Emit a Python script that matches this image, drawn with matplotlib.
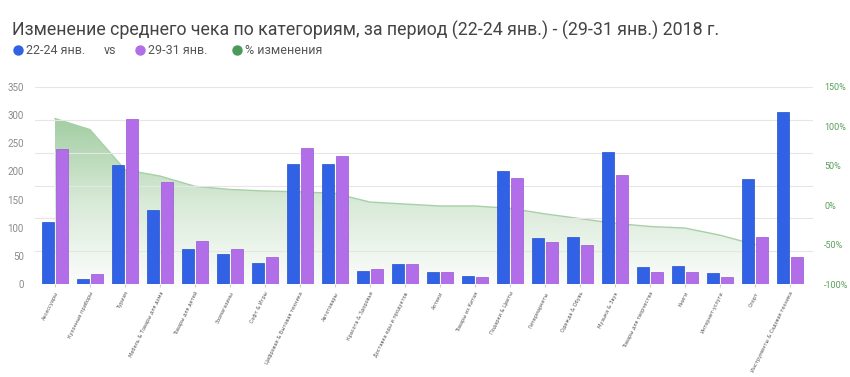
import matplotlib.pyplot as plt
import numpy as np
from matplotlib.patches import Polygon
from matplotlib.lines import Line2D
from matplotlib.colors import LinearSegmentedColormap

plt.rcParams['font.family'] = ['Roboto', 'DejaVu Sans']

categories = ['Аксессуары', 'Кухонные приборы', 'Туризм', 'Мебель & Товары для дома',
              'Товары для детей', 'Зоомагазины', 'Софт & Игры', 'Цифровая & Бытовая техника',
              'Автотовары', 'Красота & Здоровье', 'Доставка еды и продуктов', 'Аптеки',
              'Товары из Китая', 'Подарки & Цветы', 'Гипермаркеты', 'Одежда & Обувь',
              'Музыка & Звук', 'Товары для творчества', 'Книги', 'Интернет-услуги',
              'Спорт', 'Инструменты & Садовая техника']
week1 = [111, 9, 211, 131, 63, 53, 37, 213, 213, 23, 35, 21, 14, 201, 82, 84, 235, 30, 32, 20, 186, 305]
week2 = [240, 17, 294, 182, 77, 63, 48, 242, 228, 26, 35, 21, 12, 188, 74, 69, 193, 21, 21, 12, 84, 48]
change = [110, 96, 45, 37, 24, 20, 18, 17, 15, 4, 1.5, -1, -1, -4, -11, -17, -23, -27, -29, -38, -50, np.nan]
left_ticks = [0, 50, 100, 150, 200, 250, 300, 350]
right_ticks = [-100, -50, 0, 50, 100, 150]

BLUE = '#3162e6'
PURPLE = '#b26ee8'
GREEN = '#4c9a5a'
NARROW = ['Liberation Sans Narrow', 'DejaVu Sans']

fig = plt.figure(figsize=(8.5, 3.77), dpi=100)
ax = fig.add_axes([35 / 850, 1 - 284 / 377, (813 - 35) / 850, (284 - 87) / 377])
ax2 = ax.twinx()

x = np.arange(len(categories))

# green gradient area on the right axis
ch = np.array(change, dtype=float)
ok = ~np.isnan(ch)
xs, ys = x[ok], ch[ok]
verts = [(xs[0], -100)] + list(zip(xs, ys)) + [(xs[-1], -100)]
poly = Polygon(verts, closed=True, facecolor='none', edgecolor='none')
ax2.add_patch(poly)
cmap = LinearSegmentedColormap.from_list('g', ['#fcfdfc', '#d3e8d3', '#98c898'])
grad = np.linspace(0, 1, 256).reshape(-1, 1)
im = ax2.imshow(grad, cmap=cmap, origin='lower', aspect='auto',
                extent=[xs[0], xs[-1], -100, ys.max()], alpha=0.9, zorder=1)
im.set_clip_path(poly)
ax2.plot(xs, ys, color='#a8d0a8', lw=1, zorder=2)

ax2.set_ylim(-100, 150)
ax2.set_yticks(right_ticks)
ax2.set_yticklabels([f'{t}%' for t in right_ticks], color='#5a9e5a', fontsize=6.5)
ax2.tick_params(axis='y', length=0, pad=8)

# bars on the left axis, drawn above the area
ax.set_zorder(ax2.get_zorder() + 1)
ax.patch.set_visible(False)
w = 0.36
ax.bar(x - 0.2, week1, w, color=BLUE, edgecolor='#2550c8', lw=0.5, zorder=3)
ax.bar(x + 0.2, week2, w, color=PURPLE, edgecolor='#9a58d0', lw=0.5, zorder=3)

for g in np.linspace(0, 350, 7):
    ax.axhline(g, color='#e6e6e6', lw=0.8, zorder=0)

ax.set_ylim(0, 350)
ax.set_xlim(-0.57, len(categories) - 1 + 0.66)
ax.set_yticks(left_ticks)
ax.set_yticklabels([str(t) for t in left_ticks], color='#8a8a8a', fontsize=7)
ax.tick_params(axis='y', length=0, pad=8)
ax.set_xticks(x)
ax.set_xticklabels(categories, rotation=64, ha='right', va='top',
                   rotation_mode='anchor', fontsize=3.6, color='#555555', family=NARROW)
ax.tick_params(axis='x', length=2, color='#cccccc', pad=3)

for a in (ax, ax2):
    for s in a.spines.values():
        s.set_visible(False)

fig.text(12 / 850, 1 - 30 / 377, 'Изменение среднего чека по категориям, за период (22-24 янв.) - (29-31 янв.) 2018 г.',
         fontsize=12.8, color='#444444', va='center', ha='left')

# legend row
ly = 1 - 50 / 377
items = [(18, BLUE, '22-24 янв.'), (140, PURPLE, '29-31 янв.'), (237, GREEN, '% изменения')]
for px, col, lab in items:
    fig.add_artist(Line2D([px / 850], [ly], marker='o', markersize=6.5, color=col,
                          transform=fig.transFigure))
    fig.text((px + 8) / 850, ly, lab, fontsize=9, color='#555555', va='center')
fig.text(104 / 850, ly, 'vs', fontsize=9, color='#555555', va='center')

fig.savefig('out.png', dpi=100)
